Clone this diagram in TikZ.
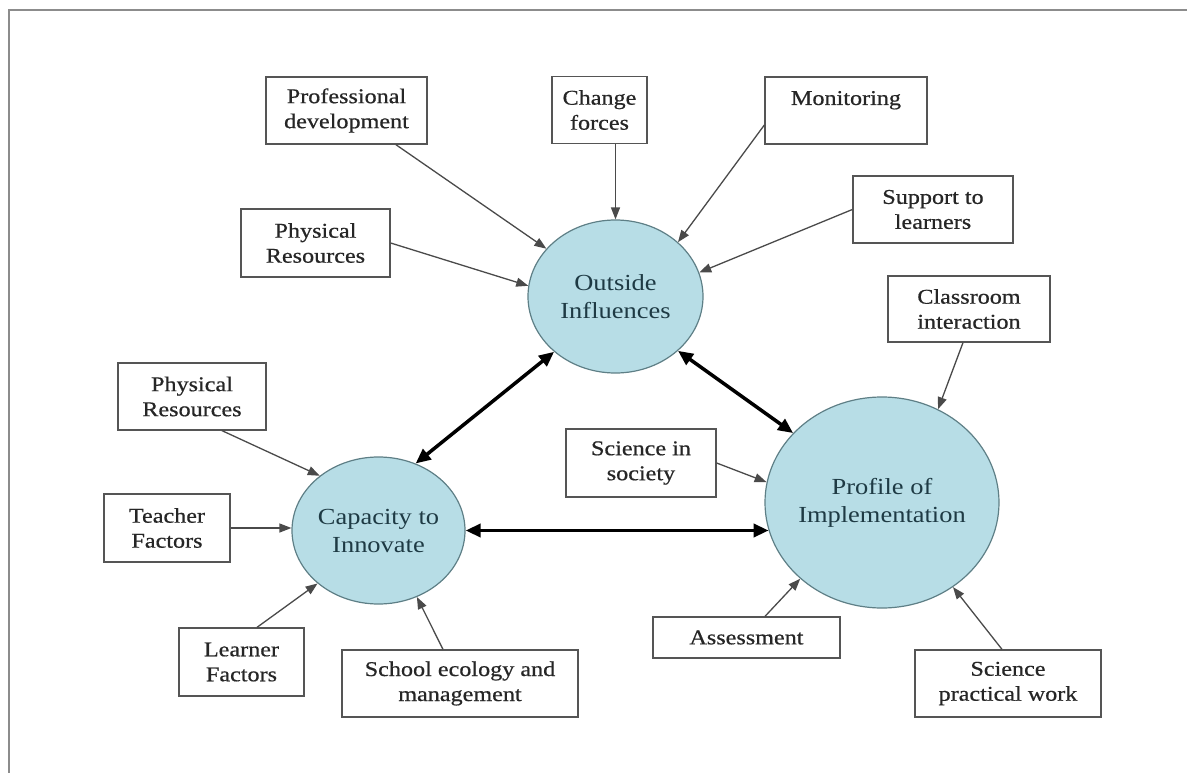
\documentclass[tikz,border=0pt]{standalone}
\usepackage{fontspec}
\setmainfont{Liberation Serif}[FakeStretch=1.15]
\newfontfamily\factorfont{Liberation Serif}[FakeStretch=1.15, FakeBold=0.6]
\usetikzlibrary{arrows.meta,calc,shapes.geometric}
\definecolor{ellfill}{HTML}{B7DDE6}
\definecolor{elldraw}{HTML}{5E7F86}
\definecolor{elltext}{HTML}{1E3A44}
\definecolor{boxdraw}{HTML}{555555}
\definecolor{boxtext}{HTML}{262626}
\definecolor{arrcol}{HTML}{4A4A4A}
\definecolor{framecol}{HTML}{8C8C8C}
\begin{document}
\begin{tikzpicture}[x=1pt,y=-1pt,
  factor/.style={draw=boxdraw, line width=1.3pt, fill=white, align=center, inner sep=0pt,
    text=boxtext, font=\factorfont\fontsize{21}{25}\selectfont},
  hub/.style={ellipse, draw=elldraw, line width=1.2pt, fill=ellfill, inner sep=0pt},
  hubtext/.style={align=center, text=elltext, font=\fontsize{23}{28}\selectfont},
  infl/.style={draw=arrcol, line width=1.3pt, -{Triangle[length=12pt,width=9pt]}},
  link/.style={draw=black, line width=3.5pt, {Triangle[length=15pt,width=13pt]}-{Triangle[length=15pt,width=13pt]}},
]
\useasboundingbox (0,0) rectangle (1187,773);
\draw[framecol, line width=2.5pt] (1187,10) -- (9,10) -- (9,773);

% hubs
\node[hub, minimum width=175pt, minimum height=153pt,
  label={[hubtext]center:{Outside\\Influences}}] (oi) at (615.5,296.5) {};
\node[hub, minimum width=234pt, minimum height=211pt,
  label={[hubtext]center:{Profile of\\Implementation}}] (pi) at (882,502.5) {};
\node[hub, minimum width=173pt, minimum height=147pt,
  label={[hubtext]center:{Capacity to\\Innovate}}] (cap) at (378.5,530.5) {};

% factors
\node[factor, minimum width=161pt, minimum height=67pt] (pd) at (346.5,110.5) {Professional\\development};
\node[factor, minimum width=95pt, minimum height=67pt] (cf) at (599.5,110) {Change\\forces};
\node[factor, minimum width=162pt, minimum height=67pt] (mon) at (846,110.5) {Monitoring\\\mbox{}};
\node[factor, minimum width=160pt, minimum height=67pt] (sup) at (933,209.5) {Support to\\learners};
\node[factor, minimum width=149pt, minimum height=68pt] (prt) at (315.5,243) {Physical\\Resources};
\node[factor, minimum width=162pt, minimum height=66pt] (ci) at (969,309) {Classroom\\interaction};
\node[factor, minimum width=148pt, minimum height=67pt] (prl) at (192,396.5) {Physical\\Resources};
\node[factor, minimum width=150pt, minimum height=68pt] (sis) at (641,463) {Science in\\society};
\node[factor, minimum width=126pt, minimum height=68pt] (tf) at (167,528) {Teacher\\Factors};
\node[factor, minimum width=125pt, minimum height=68pt] (lf) at (241.5,662) {Learner\\Factors};
\node[factor, minimum width=236pt, minimum height=67pt] (se) at (460,683.5) {School ecology and\\management};
\node[factor, minimum width=187pt, minimum height=41pt] (as) at (746.5,637.5) {Assessment};
\node[factor, minimum width=186pt, minimum height=67pt] (spw) at (1008,683.5) {Science\\practical work};

% influence arrows
\draw[infl] (pd) -- (oi);
\draw[infl] (cf.south -| oi.north) -- (oi.north);
\draw[infl] ($(mon.west)+(0,14.5)$) -- (oi.41);
\draw[infl] (sup.west) -- (oi.16);
\draw[infl] (prt.east) -- (oi.173);
\draw[infl] ($(ci.south)+(-6,0)$) -- (pi.59);
\draw[infl] (sis.east) -- (pi.170);
\draw[infl] ($(as.north)+(18.5,0)$) -- (pi.223);
\draw[infl] ($(spw.north)+(-6,0)$) -- (pi.310);
\draw[infl] ($(prl.south)+(30,0)$) -- (cap.137);
\draw[infl] (tf.east) -- (tf.east -| cap.west);
\draw[infl] ($(lf.north)+(15.5,0)$) -- (cap.221);
\draw[infl] ($(se.north)+(-17,0)$) -- (cap.300);

% links between hubs
\draw[link] (cap.61) -- (oi.222);
\draw[link] (oi.319) -- (pi.142);
\draw[link] (cap.east) -- (pi.194 |- cap.east);
\end{tikzpicture}
\end{document}
